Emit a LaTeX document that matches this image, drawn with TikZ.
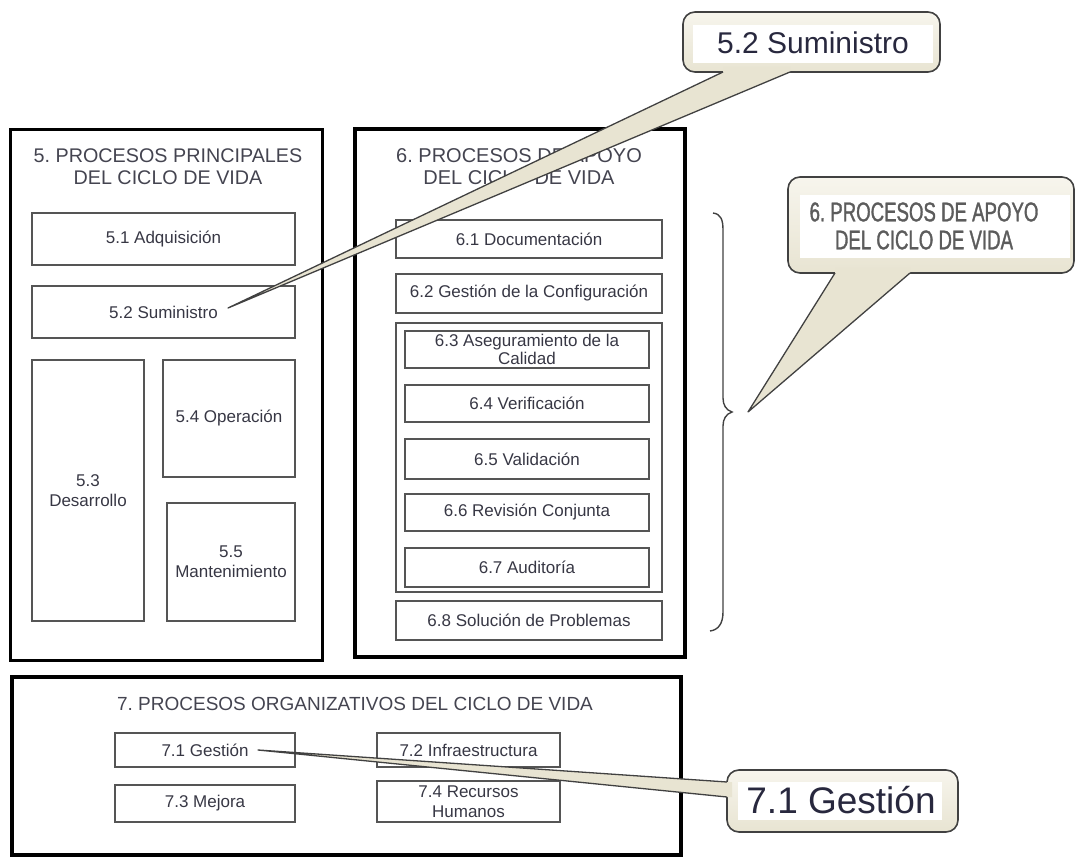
\documentclass[tikz,border=0pt]{standalone}
\usepackage{fontspec}
\setmainfont{Liberation Sans}
\newfontfamily\narrowfont{Liberation Sans}[FakeStretch=0.69,FakeBold=1.2]
\definecolor{txt}{RGB}{55,55,68}
\definecolor{ttl}{RGB}{68,68,80}
\definecolor{bord}{RGB}{85,85,85}
\definecolor{beige}{RGB}{232,228,210}
\definecolor{beigel}{RGB}{247,245,237}
\definecolor{cbord}{RGB}{65,65,65}
\definecolor{ctxt}{RGB}{40,40,62}
\definecolor{gtxt}{RGB}{92,92,92}
\frenchspacing
\begin{document}
\begin{tikzpicture}[x=1pt,y=-1pt,
  outer/.style={draw=black, line width=3pt, inner sep=0pt},
  inbox/.style={draw=bord, line width=1.3pt, text=txt, font=\fontsize{17}{20}\selectfont, align=center, inner sep=0pt},
  titl/.style={text=ttl, font=\fontsize{20}{22}\selectfont, align=center, inner sep=0pt},
  callout/.style={draw=cbord, line width=1.6pt, rounded corners=12pt, top color=beigel, bottom color=beige, inner sep=0pt},
  whitebox/.style={fill=white, inner sep=0pt},
  ptrfill/.style={fill=beige},
  ptrline/.style={draw=cbord, line width=1.3pt, line join=round}]
\useasboundingbox (0,0) rectangle (1078,858);

% outer boxes
\node[outer, minimum width=312pt, minimum height=530pt] (b5) at (166,395) {};
\node[outer, line width=4pt, minimum width=330pt, minimum height=528pt] (b6) at (520,393) {};
\node[outer, line width=4pt, minimum width=669pt, minimum height=178pt] (b7) at (346.5,766) {};

% titles
\node[titl, font=\fontsize{19.75}{22}\selectfont] (t5) at (168,167) {5. PROCESOS PRINCIPALES\\DEL CICLO DE VIDA};
\node[titl] (t6) at (519,167) {6. PROCESOS DE APOYO\\DEL CICLO DE VIDA};
\node[titl, font=\fontsize{19}{22}\selectfont] (t7) at (355,704) {7. PROCESOS ORGANIZATIVOS DEL CICLO DE VIDA};

% group 5
\node[inbox, minimum width=263pt, minimum height=52pt] (n51) at (163.5,239) {5.1 Adquisición};
\node[inbox, minimum width=263pt, minimum height=52pt] (n52) at (163.5,312) {5.2 Suministro};
\node[inbox, minimum width=112pt, minimum height=261pt] (n53) at (88,490.5) {5.3\\Desarrollo};
\node[inbox, minimum width=132pt, minimum height=117pt] (n54) at (229,418.5) {5.4 Operación};
\node[inbox, minimum width=128pt, minimum height=118pt] (n55) at (231,562) {5.5\\Mantenimiento};

% group 6
\node[inbox, minimum width=266pt, minimum height=38pt] (n61) at (529,239) {6.1 Documentación};
\node[inbox, minimum width=266pt, minimum height=39pt] (n62) at (529,293.5) {6.2 Gestión de la Configuración};
\node[inbox, minimum width=266pt, minimum height=269pt] (grp) at (529,457.5) {};
\node[inbox, font=\fontsize{17}{18}\selectfont, minimum width=244pt, minimum height=37pt] (n63) at (527,349.5) {6.3 Aseguramiento de la\\Calidad};
\node[inbox, minimum width=244pt, minimum height=37pt] (n64) at (527,403.5) {6.4 Verificación};
\node[inbox, minimum width=244pt, minimum height=40pt] (n65) at (527,459) {6.5 Validación};
\node[inbox, minimum width=244pt, minimum height=37pt] (n66) at (527,512.5) {6.6 Revisión Conjunta};
\node[inbox, minimum width=244pt, minimum height=39pt] (n67) at (527,567.5) {6.7 Auditoría};
\node[inbox, minimum width=266pt, minimum height=39pt] (n68) at (529,620.5) {6.8 Solución de Problemas};

% group 7
\node[inbox, minimum width=180pt, minimum height=34pt] (n71) at (205,750) {7.1 Gestión};
\node[inbox, minimum width=183pt, minimum height=34pt] (n72) at (468.5,750) {7.2 Infraestructura};
\node[inbox, minimum width=180pt, minimum height=37pt] (n73) at (205,803.5) {7.3 Mejora};
\node[inbox, minimum width=183pt, minimum height=41pt] (n74) at (468.5,801.5) {7.4 Recursos\\Humanos};

% brace
\coordinate (br1) at (713,213);
\coordinate (brtip) at (732,412);
\coordinate (br2) at (710,631);
\draw[draw=cbord, line width=1.4pt] (br1) .. controls (721,214) and (723,220) .. (723,230) -- (723,398)
  .. controls (723,405) and (726,410) .. (brtip)
  .. controls (726,414) and (723,419) .. (723,426) -- (723,612)
  .. controls (723,624) and (718,630) .. (br2);

% callout 5.2
\node[callout, minimum width=257pt, minimum height=60pt] (c52) at (811.5,42) {};
\coordinate (tip52) at (228,308);
\coordinate (a52) at (723,72);
\coordinate (b52) at (790,72);
\fill[ptrfill] (tip52) -- (a52) -- (723,67) -- (790,67) -- (b52) -- cycle;
\draw[ptrline] (a52) -- (tip52) -- (b52);
\node[whitebox, minimum width=240pt, minimum height=38pt] (w52) at (813,44) {};
\node[text=ctxt, font=\fontsize{30}{32}\selectfont] (l52) at (813,43) {5.2 Suministro};

% callout 6
\node[callout, minimum width=286pt, minimum height=96pt] (c6) at (931,225) {};
\coordinate (tip6) at (748,412);
\coordinate (a6) at (835,273);
\coordinate (b6p) at (910,273);
\fill[ptrfill] (tip6) -- (a6) -- (835,268) -- (910,268) -- (b6p) -- cycle;
\draw[ptrline] (a6) -- (tip6) -- (b6p);
\node[whitebox, minimum width=270pt, minimum height=63pt] (w6) at (935,226.5) {};
\node[text=gtxt, font=\narrowfont\fontsize{27}{28}\selectfont, align=center] (l6) at (924,226) {6. PROCESOS DE APOYO\\DEL CICLO DE VIDA};

% callout 7.1
\node[callout, minimum width=231pt, minimum height=62pt] (c71) at (842.5,801) {};
\coordinate (tip71) at (258,750);
\coordinate (a71) at (727,782);
\coordinate (b71) at (727,797);
\fill[ptrfill] (tip71) -- (a71) -- (732,782) -- (732,797) -- (b71) -- cycle;
\draw[ptrline] (a71) -- (tip71) -- (b71);
\node[whitebox, minimum width=204pt, minimum height=38pt] (w71) at (840,801) {};
\node[text=ctxt, font=\fontsize{37}{38}\selectfont] (l71) at (841,800) {7.1 Gestión};
\end{tikzpicture}
\end{document}
